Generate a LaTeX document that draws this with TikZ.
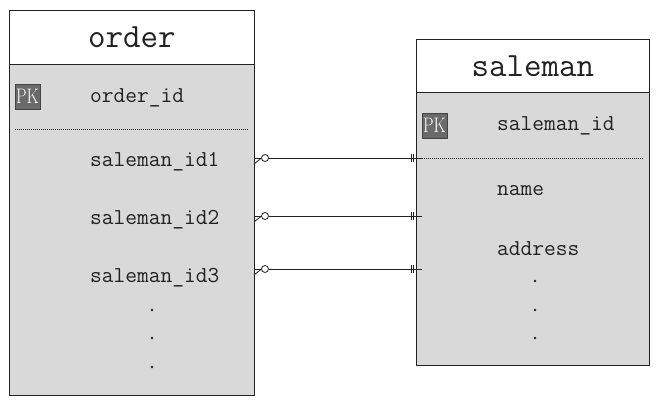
\documentclass[tikz,border=0pt]{standalone}
\usepackage{tikz}
\definecolor{boxgray}{HTML}{D9D9D9}
\definecolor{pkgray}{HTML}{6A6A6A}
\definecolor{ink}{HTML}{222222}
\tikzset{
  tablebox/.style={draw=ink, fill=boxgray, line width=0.9pt, inner sep=0pt, anchor=north west},
  headbox/.style={draw=ink, fill=white, line width=0.9pt, inner sep=0pt, anchor=north west,
     font=\ttfamily\fontsize{34}{38}\selectfont, text=ink},
  pkbox/.style={draw=ink!85, fill=pkgray, line width=0.8pt, inner sep=0pt, minimum width=25pt, minimum height=25pt,
     text=white, font=\rmfamily\fontsize{21}{22}\selectfont},
  field/.style={anchor=west, inner sep=0pt, text=ink, font=\ttfamily\fontsize{22.8}{26}\selectfont},
  vdots/.style={fill=ink, circle, inner sep=0pt, minimum size=2.6pt},
  sep/.style={ink, line width=0.6pt, dash pattern=on 1pt off 1pt},
  rel/.style={ink, line width=0.9pt},
  sym/.style={ink, line width=0.8pt}
}
\begin{document}
\begin{tikzpicture}[x=1pt,y=-1pt]
\useasboundingbox (0,0) rectangle (661,405);
% order table
\node[tablebox, minimum width=245pt, minimum height=385pt] (order) at (9,10) {};
\node[headbox, minimum width=245pt, minimum height=54pt] (orderhead) at (9,10) {order};
\node[pkbox] (pk1) at (27.5,96.5) {\scalebox{0.8}[1]{PK}};
\node[field] (oid) at (90,98) {order\_id};
\coordinate (osepL) at (15,129);
\coordinate (osepR) at (248,129);
\draw[sep] (osepL) -- (osepR);
\node[field] (sid1) at (90,162) {saleman\_id1};
\node[field] (sid2) at (90,220) {saleman\_id2};
\node[field] (sid3) at (90,278) {saleman\_id3};
\node[vdots] (od1) at (152,310) {};
\node[vdots] (od2) at (152,338) {};
\node[vdots] (od3) at (152,367) {};
% saleman table
\node[tablebox, minimum width=233pt, minimum height=326pt] (saleman) at (416,39) {};
\node[headbox, minimum width=233pt, minimum height=53pt] (salehead) at (416,39) {saleman};
\node[pkbox] (pk2) at (434.5,125.5) {\scalebox{0.8}[1]{PK}};
\node[field] (sid) at (497,126) {saleman\_id};
\node[field] (nm) at (497,191) {name};
\node[field] (addr) at (497,249) {address};
\node[vdots] (sd1) at (535,281) {};
\node[vdots] (sd2) at (535,310) {};
\node[vdots] (sd3) at (535,338) {};
\coordinate (ssepL) at (422,158);
\coordinate (ssepR) at (643,158);
\draw[sep] (ssepL) -- (ssepR);
% relationships
\foreach \i/\y in {1/158,2/216,3/269}{
  \coordinate (o\i) at (254,\y);
  \coordinate (s\i) at (422,\y);
  \coordinate (c\i) at (265,\y);
  \draw[rel] (c\i) ++(3.5,0) -- (s\i);
  \draw[sym] (o\i) -- ++(7.5,0);
  \draw[sym] (o\i) ++(0,6) -- ++(7.5,-6);
  \draw[sym, fill=white] (c\i) circle (3.5);
  \draw[sym] (s\i) ++(-11,-4) -- ++(0,8);
  \draw[sym] (s\i) ++(-8.5,-4) -- ++(0,8);
}
\end{tikzpicture}
\end{document}
